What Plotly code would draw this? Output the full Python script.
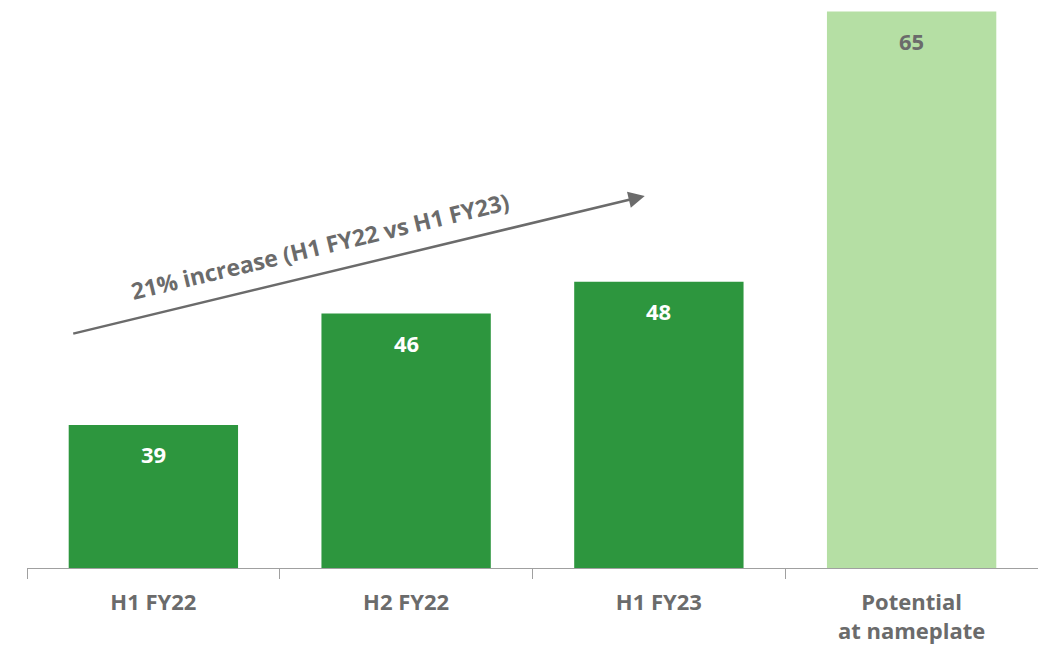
import plotly.graph_objects as go

categories = ["H1 FY22", "H2 FY22", "H1 FY23", "Potential<br>at nameplate"]
values = [39, 46, 48, 65]
bar_colors = ["#2d963e", "#2d963e", "#2d963e", "#b5dfa4"]
label_colors = ["#ffffff", "#ffffff", "#ffffff", "#6b6b6b"]
arrow_text = "21% increase (H1 FY22 vs H1 FY23)"

FONT = "Open Sans"
GREY = "#6b6b6b"

fig = go.Figure()
fig.add_trace(go.Bar(
    x=categories, y=values,
    marker=dict(color=bar_colors, line=dict(width=0)),
    hoverinfo="skip",
))

annotations = []
for c, v, col in zip(categories, values, label_colors):
    annotations.append(dict(
        x=c, y=v, xref="x", yref="y", text=f"<b>{v}</b>", showarrow=False,
        yanchor="top", yshift=-12, font=dict(family=FONT, size=22, color=col),
    ))

# trend arrow
annotations.append(dict(
    x=0.611, y=0.655, xref="paper", yref="paper", text="",
    showarrow=True, ax=-573, ay=138, axref="pixel", ayref="pixel",
    arrowhead=2, arrowsize=1.3, arrowwidth=2.5, arrowcolor=GREY,
))
annotations.append(dict(
    x=(320 - 27) / 1011, y=(568 - 246) / 568, xref="paper", yref="paper",
    text=f"<b>{arrow_text}</b>", showarrow=False, textangle=-13.5,
    xanchor="center", yanchor="middle",
    font=dict(family=FONT, size=23, color=GREY),
))

fig.update_layout(
    width=1038, height=645,
    margin=dict(l=27, r=0, t=0, b=77),
    paper_bgcolor="white", plot_bgcolor="white",
    bargap=0.33, showlegend=False,
    annotations=annotations,
    xaxis=dict(
        type="category", showline=True, linecolor="#a0a0a0", linewidth=1,
        ticks="outside", tickson="boundaries", ticklen=10, tickcolor="#a0a0a0",
        tickfont=dict(family=FONT, size=22, color=GREY),
        ticklabelstandoff=15, showgrid=False, zeroline=False,
        tickprefix="<b>", ticksuffix="</b>",
    ),
    yaxis=dict(range=[30.0, 30.0 + 568 / 15.9], visible=False, showgrid=False, zeroline=False),
)

fig.write_html("out.html")
